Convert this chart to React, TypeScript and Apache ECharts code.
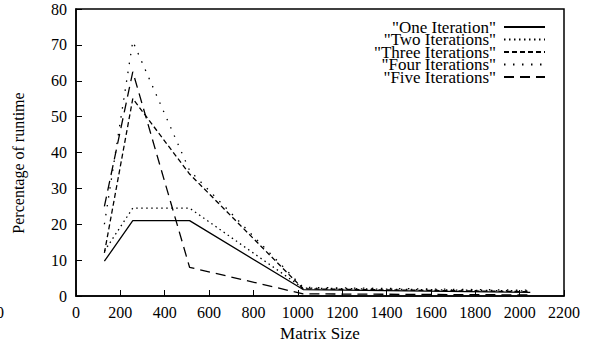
import React, { useEffect, useRef } from "react";
import * as echarts from "echarts";

const matrixSizes = [128, 256, 512, 1024, 2048];
const oneIteration = [9.7, 21, 21, 1.8, 1.0];
const twoIterations = [12.5, 24.5, 24.5, 2.2, 1.4];
const threeIterations = [12, 55, 34, 2, 1.2];
const fourIterations = [20, 71, 35, 2.4, 1.6];
const fiveIterations = [25, 62.5, 8, 0.6, 0.3];

const seriesNames = [
  '"One Iteration"',
  '"Two Iterations"',
  '"Three Iterations"',
  '"Four Iterations"',
  '"Five Iterations"',
];
const seriesValues = [oneIteration, twoIterations, threeIterations, fourIterations, fiveIterations];
const dashTypes: any[] = ["solid", [1.5, 3.5], [5, 3], [1.5, 7.5], [10, 6]];

const FONT = "Liberation Serif";

export default function App() {
  const ref = useRef<HTMLDivElement>(null);
  useEffect(() => {
    if (!ref.current) return;
    const chart = echarts.init(ref.current, undefined, { renderer: "svg" });
    const rowTops = [18.5, 31, 43.5, 56, 68.5];
    const legends = seriesNames.map((n, i) => ({
      data: [n],
      orient: "horizontal",
      right: 44,
      top: rowTops[i],
      padding: 0,
      align: "right",
      itemWidth: 41,
      itemHeight: 14,
      selectedMode: false,
      itemStyle: { opacity: 0, color: "transparent", borderWidth: 0 },
      textStyle: { fontFamily: FONT, fontSize: 17, color: "#000", lineHeight: 14, padding: [0, 3, 0, 0] },
    }));
    chart.setOption({
      animation: false,
      backgroundColor: "#fff",
      textStyle: { fontFamily: FONT },
      grid: {
        left: 76,
        top: 9,
        right: 26,
        bottom: 48,
        show: true,
        borderColor: "#000",
        borderWidth: 1.5,
        containLabel: false,
        outerBoundsMode: "none",
      },
      legend: legends,
      xAxis: {
        type: "value",
        min: 0,
        max: 2200,
        interval: 200,
        name: "Matrix Size",
        nameLocation: "middle",
        nameGap: 26,
        nameTextStyle: { fontFamily: FONT, fontSize: 17, color: "#000" },
        axisLine: { show: true, lineStyle: { color: "#000", width: 1.5 } },
        axisTick: { show: true, inside: true, length: 6, lineStyle: { color: "#000", width: 1 } },
        axisLabel: {
          fontFamily: FONT,
          fontSize: 16,
          color: "#000",
          margin: 8,
          formatter: (v: number) => String(v),
        },
        splitLine: { show: false },
      },
      yAxis: {
        type: "value",
        min: 0,
        max: 80,
        interval: 10,
        axisLine: { show: true, lineStyle: { color: "#000", width: 1.5 } },
        axisTick: { show: true, inside: true, length: 6, lineStyle: { color: "#000", width: 1 } },
        axisLabel: {
          fontFamily: FONT,
          fontSize: 16,
          color: "#000",
          margin: 9,
          formatter: (v: number) => String(v),
        },
        splitLine: { show: false },
      },
      graphic: [
        {
          type: "text",
          x: 18,
          y: 163,
          rotation: Math.PI / 2,
          style: {
            text: "Percentage of runtime",
            fontFamily: FONT,
            fontSize: 16,
            fill: "#000",
            align: "center",
            verticalAlign: "middle",
          },
        },
        {
          type: "text",
          x: -4,
          y: 312,
          style: {
            text: "0",
            fontFamily: FONT,
            fontSize: 16,
            fill: "#000",
            align: "left",
            verticalAlign: "middle",
          },
        },
      ],
      series: seriesNames.map((n, i) => ({
        name: n,
        type: "line",
        symbol: "none",
        data: matrixSizes.map((x, j) => [x, seriesValues[i][j]]),
        lineStyle: { color: "#000", width: 1.3, type: dashTypes[i] },
        itemStyle: { color: "#000" },
      })),
    });
    return () => chart.dispose();
  }, []);
  return (
    <div
      ref={ref}
      style={{ position: "absolute", left: 0, top: 0, width: 590, height: 344 }}
    />
  );
}
